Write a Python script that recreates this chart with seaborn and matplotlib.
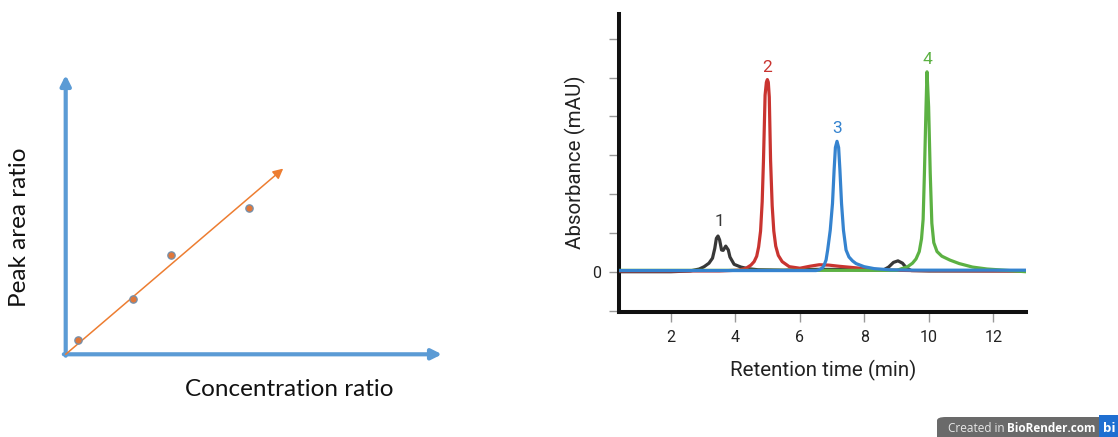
import numpy as np
import pandas as pd
import seaborn as sns
import matplotlib.pyplot as plt
from matplotlib.patches import FancyBboxPatch

# calibration points (left panel), arbitrary units
conc_ratio = [0.32, 1.78, 2.79, 4.88]
peak_ratio = [0.51, 1.97, 3.56, 5.25]
fit_end = (5.78, 6.65)

# chromatogram traces (retention time in min, absorbance)
t_black = [0.4, 2.0, 2.6, 2.88, 3.03, 3.18, 3.29, 3.36, 3.41, 3.46, 3.51, 3.57, 3.62, 3.70,
           3.78, 3.83, 3.96, 4.17, 4.38, 4.7, 5.5, 6.5, 7.5, 8.3, 8.6, 8.75, 8.9, 9.04, 9.18,
           9.3, 9.45, 10.0, 13.0]
a_black = [0.0, 0.0, 0.02, 0.07, 0.13, 0.22, 0.35, 0.60, 0.86, 0.92, 0.82, 0.56, 0.55, 0.66,
           0.56, 0.38, 0.19, 0.12, 0.08, 0.05, 0.04, 0.06, 0.06, 0.04, 0.05, 0.12, 0.24, 0.28,
           0.22, 0.10, 0.03, 0.02, 0.02]

t_red = [0.4, 3.5, 4.1, 4.33, 4.48, 4.58, 4.66, 4.72, 4.78, 4.83, 4.87, 4.92, 4.96, 4.99,
         5.02, 5.05, 5.09, 5.14, 5.19, 5.25, 5.33, 5.45, 5.67, 6.0, 6.3, 6.6, 6.9, 7.22, 7.74,
         8.25, 8.77, 9.5, 13.0]
a_red = [0.02, 0.02, 0.04, 0.09, 0.17, 0.26, 0.40, 0.64, 1.05, 1.80, 2.87, 4.55, 4.88, 4.95,
         4.88, 4.50, 2.87, 1.70, 1.05, 0.66, 0.42, 0.26, 0.13, 0.09, 0.14, 0.18, 0.17, 0.14,
         0.10, 0.06, 0.04, 0.03, 0.02]

t_blue = [0.4, 6.5, 6.60, 6.70, 6.75, 6.81, 6.86, 6.94, 7.01, 7.06, 7.10, 7.15, 7.20, 7.24,
          7.29, 7.35, 7.43, 7.52, 7.63, 7.74, 7.99, 8.30, 8.77, 9.5, 13.0]
a_blue = [0.03, 0.03, 0.05, 0.10, 0.17, 0.30, 0.56, 1.07, 1.76, 2.62, 3.20, 3.36, 3.20, 2.62,
          1.76, 1.07, 0.56, 0.38, 0.28, 0.21, 0.13, 0.08, 0.05, 0.04, 0.04]

t_green = [0.4, 9.0, 9.34, 9.49, 9.60, 9.70, 9.77, 9.82, 9.86, 9.91, 9.94, 9.99, 10.04,
           10.09, 10.15, 10.25, 10.4, 10.65, 10.94, 11.35, 11.8, 12.5, 13.0]
a_green = [0.035, 0.035, 0.13, 0.22, 0.33, 0.52, 0.85, 1.35, 2.54, 4.25, 5.15, 4.25, 2.54,
           1.25, 0.75, 0.52, 0.40, 0.30, 0.21, 0.12, 0.07, 0.03, 0.0]

peak_labels = ["1", "2", "3", "4"]
label_pos = [(3.52, 1.30), (4.99, 5.25), (7.15, 3.68), (9.94, 5.48)]

colors = {"1": "#383838", "2": "#c93430", "3": "#3583cf", "4": "#5cb143"}

traces = {"1": (t_black, a_black), "2": (t_red, a_red),
          "4": (t_green, a_green), "3": (t_blue, a_blue)}

sns.set_style("white")
plt.rcParams["font.family"] = ["Roboto", "DejaVu Sans"]

fig = plt.figure(figsize=(11.18, 4.37), dpi=100)
W, H = 1118, 437

# ---- left: calibration sketch ----
axl = fig.add_axes([65.7 / W, 1 - 354.3 / H, (442 - 65.7) / W, (354.3 - 75) / H])
axl.set_xlim(0, 10)
axl.set_ylim(0, 10)
axl.axis("off")
blue_ax = "#5b9bd5"
arrow_kw = dict(arrowstyle="-|>,head_length=0.6,head_width=0.3", color=blue_ax, lw=3,
                shrinkA=0, shrinkB=0)
axl.annotate("", xy=(10, 0), xytext=(-0.05, 0), arrowprops=arrow_kw, annotation_clip=False)
axl.annotate("", xy=(0, 10), xytext=(0, -0.05), arrowprops=arrow_kw, annotation_clip=False)
axl.annotate("", xy=fit_end, xytext=(0, 0),
             arrowprops=dict(arrowstyle="-|>,head_length=0.6,head_width=0.3",
                             color="#ed7d31", lw=1.1, shrinkA=0, shrinkB=0))
sns.scatterplot(x=conc_ratio, y=peak_ratio, ax=axl, s=28, color="#e0773a",
                edgecolor="#7390ad", linewidth=0.9, zorder=5, clip_on=False)
fig.text(20 / W, 1 - 227 / H, "Peak area ratio", rotation=90, ha="center", va="center",
         fontsize=17.5, family=["Lato", "DejaVu Sans"], color="#111111")
fig.text(289 / W, 1 - 389 / H, "Concentration ratio", ha="center", va="center",
         fontsize=17.5, family=["Lato", "DejaVu Sans"], color="#111111")

# ---- right: chromatogram ----
ax = fig.add_axes([619.3 / W, 1 - 311.7 / H, (1025.7 - 619.3) / W, (311.7 - 14) / H])
for z, (name, (t, a)) in enumerate(traces.items()):
    sns.lineplot(x=t, y=a, color=colors[name], estimator=None, lw=2.3, ax=ax)
    ax.lines[-1].set_zorder(3 + z)
ax.set_xlim(0.4, 13)
ax.set_ylim(-1.03, 6.64)
ax.set_xticks([2, 4, 6, 8, 10, 12])
ax.set_yticks(range(-1, 7))
ax.set_yticklabels(["" if v != 0 else "0" for v in range(-1, 7)])
ax.tick_params(axis="both", length=7, width=1, color="#999999", labelsize=11.5,
               labelcolor="#222222", pad=6, left=True, bottom=True)
for side in ["top", "right"]:
    ax.spines[side].set_visible(False)
for side in ["left", "bottom"]:
    ax.spines[side].set_linewidth(2.9)
    ax.spines[side].set_color("#111111")
ax.set_xlabel("Retention time (min)", fontsize=14.8, color="#222222")
ax.set_ylabel("Absorbance (mAU)", fontsize=14.8, color="#222222")
ax.xaxis.set_label_coords(0.501, -(370 - 311.7) / 297.7)
ax.xaxis.label.set_va("center")
ax.yaxis.set_label_coords(-(619.3 - 575) / 406.4, 1 - (162 - 14) / 297.7)
ax.yaxis.label.set_va("center")

for lab, (x, y) in zip(peak_labels, label_pos):
    ax.text(x, y, lab, color=colors[lab], fontsize=12.5, ha="center", va="center")

# ---- BioRender badge ----
badge = FancyBboxPatch((937 / W, -0.05), (W + 20 - 937) / W, (437 - 417) / H + 0.05,
                       boxstyle="round,pad=0,rounding_size=0.008", transform=fig.transFigure,
                       facecolor="#6a6a6a", edgecolor="none")
fig.patches.append(badge)
blue_box = FancyBboxPatch((1099 / W, -0.05), 30 / W, (437 - 415) / H + 0.05,
                          boxstyle="square,pad=0", transform=fig.transFigure,
                          facecolor="#1f6fd1", edgecolor="none")
fig.patches.append(blue_box)
fig.text(948 / W, 1 - 428 / H, "Created in", color="#e8e8e8", fontsize=8.5, va="center",
         family=["Open Sans", "DejaVu Sans"])
fig.text(1007 / W, 1 - 428 / H, "BioRender.com", color="white", fontsize=8.5, va="center",
         fontweight="bold", family=["Open Sans", "DejaVu Sans"])
fig.text(1103 / W, 1 - 428 / H, "bi", color="white", fontsize=9.5, va="center",
         fontweight="bold", family=["Open Sans", "DejaVu Sans"])

plt.savefig("out.png", dpi=100)
